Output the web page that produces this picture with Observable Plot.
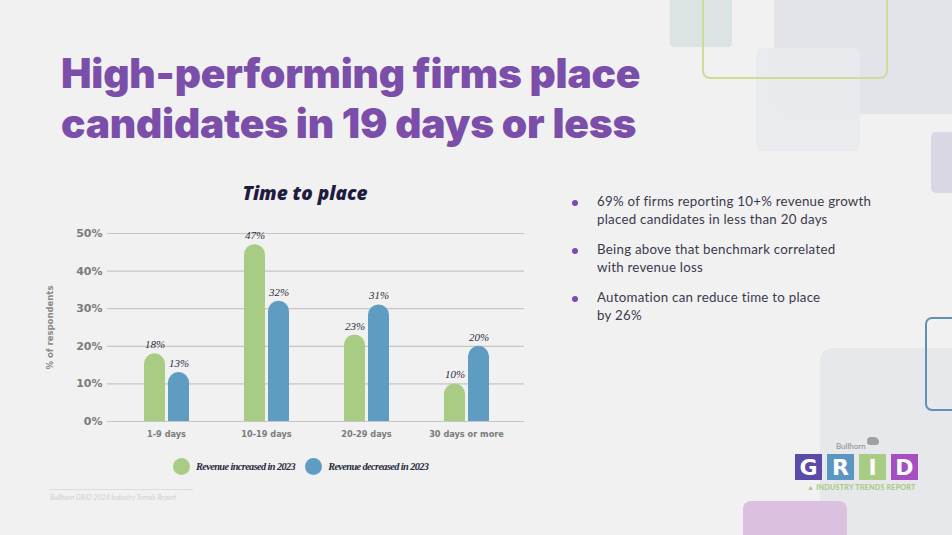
<!DOCTYPE html>
<html>
<head>
<meta charset="utf-8">
<script src="https://cdn.jsdelivr.net/npm/d3@7"></script>
<script src="https://cdn.jsdelivr.net/npm/@observablehq/plot@0.6"></script>
<style>
  html, body { margin: 0; padding: 0; }
  body { width: 952px; height: 535px; overflow: hidden; background: #f1f1f1; position: relative; font-family: "Lato", "DejaVu Sans", sans-serif; }
  .deco { position: absolute; box-sizing: border-box; }
  #title { position: absolute; left: 61px; top: 49px; margin: 0; font-family: "Inter", sans-serif; font-weight: 900; font-size: 40.7px; line-height: 50px; color: #7a4ea9; letter-spacing: -0.2px; }
  #ctitle { position: absolute; left: 110px; width: 390px; top: 180px; text-align: center; font-family: "Open Sans", sans-serif; font-style: italic; font-weight: 800; font-size: 19px; color: #1f1c40; }
  #chart { position: absolute; left: 0; top: 220px; }
  #legend { position: absolute; left: 173px; top: 458px; display: flex; align-items: center; font-family: "Liberation Serif", serif; font-style: italic; font-weight: bold; font-size: 10.3px; color: #2a2a3e; letter-spacing: -0.6px; }
  #legend .sw { width: 17px; height: 17px; border-radius: 50%; display: inline-block; margin-right: 6px; }
  #legend .item { display: flex; align-items: center; margin-right: 10px; }
  #foot { position: absolute; left: 50px; top: 489px; width: 143px; border-top: 1px solid #dcdcdc; padding-top: 3px; font-family: "Lato", sans-serif; font-style: italic; font-size: 7px; color: #d0d0d0; }
  #bullets { position: absolute; left: 570px; top: 192px; margin: 0; padding: 0; list-style: none; font-family: "Lato", sans-serif; font-size: 13.3px; letter-spacing: 0.25px; line-height: 18px; color: #3b3a4c; }
  #bullets li { position: relative; padding-left: 27px; margin-bottom: 12px; white-space: pre-line; }
  #bullets li::before { content: ""; position: absolute; left: 2px; top: 8px; width: 6px; height: 6px; border-radius: 50%; background: #7a4ea9; }
  #logo { position: absolute; left: 795px; top: 440px; width: 126px; font-family: "Lato", sans-serif; }
  #logo .bh { position: absolute; left: 41px; top: 1px; font-size: 8px; color: #8a8a8a; }
  #logo .bull { position: absolute; left: 72px; top: -3px; width: 12px; height: 8px; background: #a0a0a0; border-radius: 4px 5px 3px 3px; }
  #logo .letters { position: absolute; left: 0; top: 14px; display: flex; gap: 5px; }
  #logo .letters span { width: 27px; height: 26px; display: flex; align-items: center; justify-content: center; color: #fff; font-weight: 900; font-size: 22px; font-family: "DejaVu Sans", sans-serif; }
  #logo .itr { position: absolute; left: 12px; top: 43px; white-space: nowrap; font-size: 7.2px; font-weight: 900; color: #a8cc84; letter-spacing: 0.2px; }
</style>
</head>
<body>
<!-- decorative background shapes -->
<div class="deco" style="left:774px;top:-20px;width:200px;height:134px;background:#e3e3ea;border-radius:15px;"></div>
<div class="deco" style="left:670px;top:-10px;width:62px;height:57px;background:#dbe3e3;border-radius:4px;"></div>
<div class="deco" style="left:756px;top:48px;width:104px;height:103px;background:#e8eaed;border-radius:6px;opacity:0.9;"></div>
<div class="deco" style="left:702px;top:-20px;width:186px;height:99px;border:2px solid #cddc96;border-radius:8px;"></div>
<div class="deco" style="left:931px;top:132px;width:40px;height:61px;background:#d9d7e4;border-radius:5px;"></div>
<div class="deco" style="left:820px;top:348px;width:150px;height:200px;background:#e7e8eb;border-radius:12px;"></div>
<div class="deco" style="left:925px;top:317px;width:50px;height:94px;border:2px solid #6090b4;border-radius:7px;"></div>
<div class="deco" style="left:743px;top:501px;width:104px;height:50px;background:#dcc0e0;border-radius:8px;"></div>

<h1 id="title">High-performing firms place<br>candidates in 19 days or less</h1>

<div id="ctitle">Time to place</div>
<div id="chart"></div>
<div id="legend"></div>
<div id="foot">Bullhorn GRID 2024 Industry Trends Report</div>

<ul id="bullets"></ul>

<div id="logo">
  <div class="bh">Bullhorn</div>
  <div class="bull"></div>
  <div class="letters"></div>
  <div class="itr">▲ INDUSTRY TRENDS REPORT</div>
</div>

<script>
// ---- data ----
const categories = ["1-9 days", "10-19 days", "20-29 days", "30 days or more"];
const increased = [18, 47, 23, 10];
const decreased = [13, 32, 31, 20];
const seriesNames = ["Revenue increased in 2023", "Revenue decreased in 2023"];
const seriesColors = ["#a9cc85", "#5f9cc1"];
const yTicks = [0, 10, 20, 30, 40, 50];
const bulletTexts = [
  "69% of firms reporting 10+% revenue growth\nplaced candidates in less than 20 days",
  "Being above that benchmark correlated\nwith revenue loss",
  "Automation can reduce time to place\nby 26%"
];
const logoLetters = ["G", "R", "I", "D"];
const logoColors = ["#5b4aa8", "#5b96c2", "#a9cc85", "#a74fc2"];

// ---- table ----
const rows = [];
categories.forEach((c, i) => {
  rows.push({category: c, series: seriesNames[0], value: increased[i]});
  rows.push({category: c, series: seriesNames[1], value: decreased[i]});
});
const inc = rows.filter(d => d.series === seriesNames[0]);
const dec = rows.filter(d => d.series === seriesNames[1]);

const barW = 21;
const common = {x: "category", y: "value", fill: "series"};
const axisFont = "'DejaVu Sans', sans-serif";

const chart = Plot.plot({
  width: 560,
  height: 230,
  marginTop: 13,
  marginBottom: 29,
  marginLeft: 107,
  marginRight: 36,
  style: {background: "transparent", overflow: "visible"},
  x: {domain: categories, padding: 0, insetLeft: 9, insetRight: 8, axis: null},
  y: {domain: [0, 50], ticks: yTicks, axis: null},
  color: {domain: seriesNames, range: seriesColors},
  marks: [
    Plot.ruleY(yTicks, {stroke: "#c6c6c6", strokeWidth: 1.2}),
    Plot.axisY({ticks: yTicks, tickSize: 0, tickPadding: 5, tickFormat: d => d + "%",
      fontSize: 11, fontWeight: "bold", fontFamily: axisFont, fill: "#7b7b7b",
      label: "% of respondents", labelAnchor: "center", labelOffset: 61, labelArrow: "none"}),
    Plot.axisX({tickSize: 0, tickPadding: 10, fontSize: 8.2, fontWeight: "bold", fontFamily: axisFont, fill: "#7b7b7b", label: null}),
    // rounded bars
    Plot.barY(inc, {...common, insetLeft: 28, insetRight: 51, rx: barW / 2}),
    Plot.barY(dec, {...common, insetLeft: 52, insetRight: 27, rx: barW / 2}),
    // square off bottoms
    Plot.barY(inc, {...common, insetLeft: 28, insetRight: 51, insetTop: barW / 2}),
    Plot.barY(dec, {...common, insetLeft: 52, insetRight: 27, insetTop: barW / 2}),
    // value labels
    Plot.text(inc, {x: "category", y: "value", text: d => d.value + "%", dx: -11.5, dy: -9,
      fontStyle: "italic", fontFamily: "Liberation Serif", fontSize: 11, fill: "#2e2e3e"}),
    Plot.text(dec, {x: "category", y: "value", text: d => d.value + "%", dx: 12.5, dy: -9,
      fontStyle: "italic", fontFamily: "Liberation Serif", fontSize: 11, fill: "#2e2e3e"})
  ]
});
// axis label style
d3.select(chart).selectAll("g[aria-label='y-axis label']")
  .attr("font-size", 8.5).attr("font-weight", "bold").attr("font-family", axisFont).attr("fill", "#8a8a8a");
document.getElementById("chart").appendChild(chart);

// legend
const lg = d3.select("#legend");
seriesNames.forEach((s, i) => {
  const it = lg.append("div").attr("class", "item");
  it.append("span").attr("class", "sw").style("background", seriesColors[i]);
  it.append("span").text(s);
});

// bullets
d3.select("#bullets").selectAll("li").data(bulletTexts).join("li").text(d => d);

// logo
d3.select("#logo .letters").selectAll("span").data(logoLetters).join("span")
  .style("background", (d, i) => logoColors[i]).text(d => d);
</script>
</body>
</html>
